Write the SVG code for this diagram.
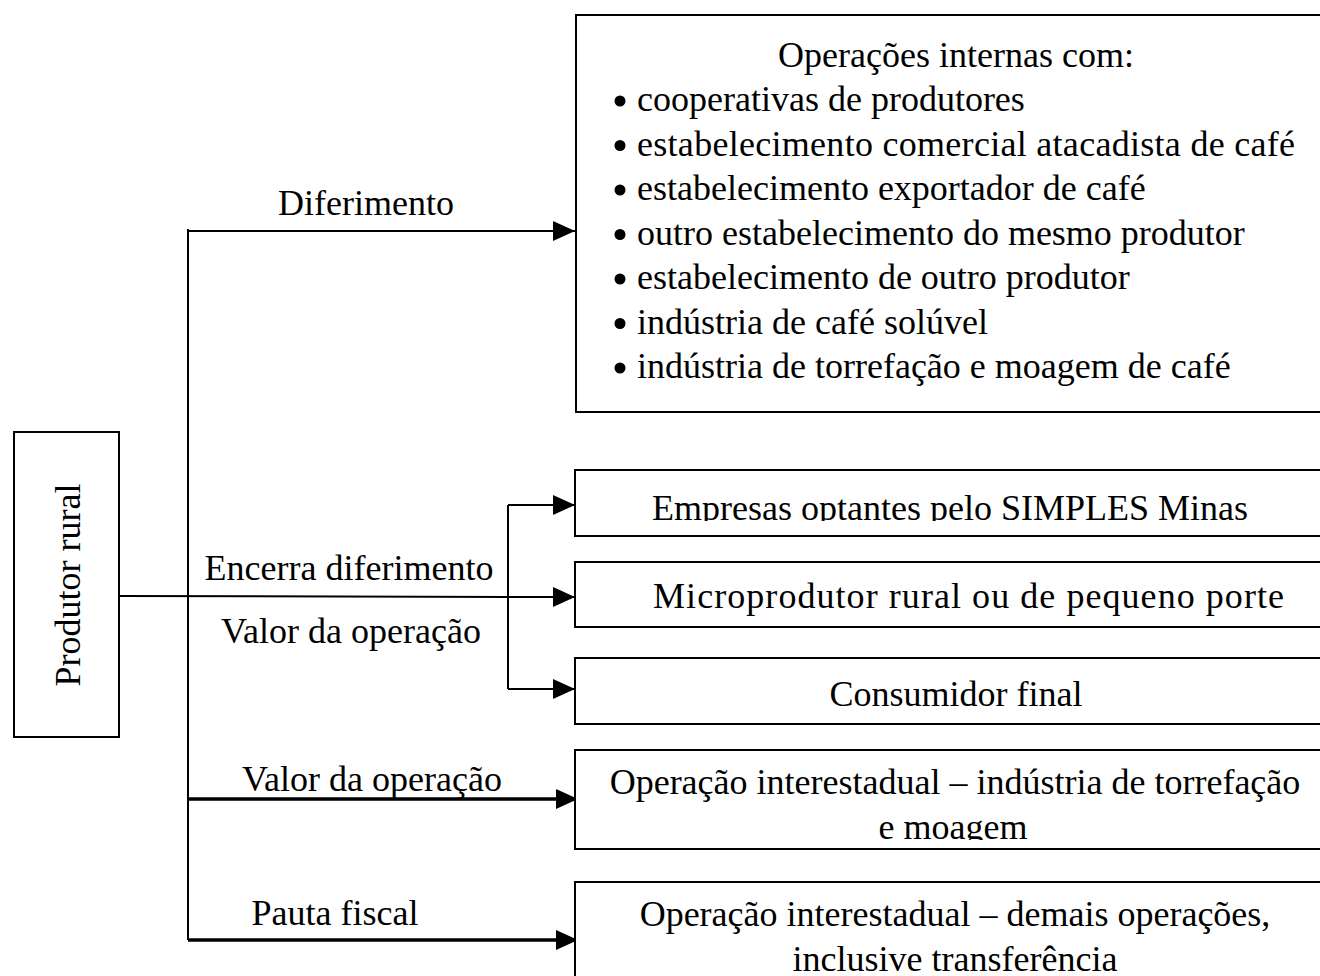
<svg xmlns="http://www.w3.org/2000/svg" width="1320" height="976" viewBox="0 0 1320 976">
<style>
text{font-family:"Liberation Serif","Times New Roman",serif;font-size:36px;fill:#000}
.c{text-anchor:middle}
.box{fill:#fff;stroke:#000;stroke-width:2}
.ln{fill:none;stroke:#000;stroke-width:2}
.thick{fill:none;stroke:#000;stroke-width:3.5}
</style>
<defs>
<marker id="ah" markerUnits="userSpaceOnUse" markerWidth="24" markerHeight="22" refX="22" refY="10" orient="auto">
<path d="M0,0 L22,10 L0,20 z" fill="#000"/>
</marker>
<clipPath id="clipE"><rect x="576" y="470" width="760" height="51"/></clipPath>
<clipPath id="clipM"><rect x="576" y="750" width="760" height="90"/></clipPath>
</defs>

<g id="connectors">
<path class="ln" d="M188,229 V940"/>
<path class="ln" d="M188,231 H575" marker-end="url(#ah)"/>
<path class="ln" d="M119,596 L518,597"/>
<path class="ln" d="M508,505 V689"/>
<path class="ln" d="M508,505 H575" marker-end="url(#ah)"/>
<path class="ln" d="M518,597 H575" marker-end="url(#ah)"/>
<path class="ln" d="M508,689 H575" marker-end="url(#ah)"/>
<path class="thick" d="M188,799 H578" marker-end="url(#ah)"/>
<path class="thick" d="M188,940 H578" marker-end="url(#ah)"/>
<text class="c" x="366" y="215">Diferimento</text>
<text class="c" x="349" y="580">Encerra diferimento</text>
<text class="c" x="351" y="643">Valor da operação</text>
<text class="c" x="372" y="791">Valor da operação</text>
<text class="c" x="335" y="925">Pauta fiscal</text>
</g>

<g id="produtor">
<rect class="box" x="14" y="432" width="105" height="305"/>
<text class="c" transform="translate(80,585) rotate(-90)" x="0" y="0">Produtor rural</text>
</g>

<g id="operacoes-internas">
<rect class="box" x="576" y="15" width="760" height="397"/>
<text class="c" x="956" y="67">Operações internas com:</text>
<g fill="#000">
<circle cx="620" cy="101" r="5.5"/>
<circle cx="620" cy="145.5" r="5.5"/>
<circle cx="620" cy="190" r="5.5"/>
<circle cx="620" cy="234.5" r="5.5"/>
<circle cx="620" cy="279" r="5.5"/>
<circle cx="620" cy="323.5" r="5.5"/>
<circle cx="620" cy="368" r="5.5"/>
</g>
<text x="637" y="111">cooperativas de produtores</text>
<text x="637" y="155.5" textLength="658">estabelecimento comercial atacadista de café</text>
<text x="637" y="200">estabelecimento exportador de café</text>
<text x="637" y="244.5">outro estabelecimento do mesmo produtor</text>
<text x="637" y="289">estabelecimento de outro produtor</text>
<text x="637" y="333.5">indústria de café solúvel</text>
<text x="637" y="378">indústria de torrefação e moagem de café</text>
</g>

<g id="simples">
<rect class="box" x="575" y="470" width="760" height="66"/>
<text class="c" x="950" y="520" clip-path="url(#clipE)">Empresas optantes pelo SIMPLES Minas</text>
</g>

<g id="microprodutor">
<rect class="box" x="575" y="562" width="760" height="65"/>
<text x="653" y="608" textLength="631">Microprodutor rural ou de pequeno porte</text>
</g>

<g id="consumidor">
<rect class="box" x="575" y="658" width="760" height="66"/>
<text class="c" x="956" y="706">Consumidor final</text>
</g>

<g id="interestadual-torrefacao">
<rect class="box" x="575" y="750" width="760" height="99"/>
<text class="c" x="955" y="794">Operação interestadual – indústria de torrefação</text>
<text class="c" x="953" y="839" clip-path="url(#clipM)">e moagem</text>
</g>

<g id="interestadual-demais">
<rect class="box" x="575" y="882" width="760" height="110"/>
<text class="c" x="955" y="926">Operação interestadual – demais operações,</text>
<text class="c" x="955" y="971">inclusive transferência</text>
</g>
</svg>
